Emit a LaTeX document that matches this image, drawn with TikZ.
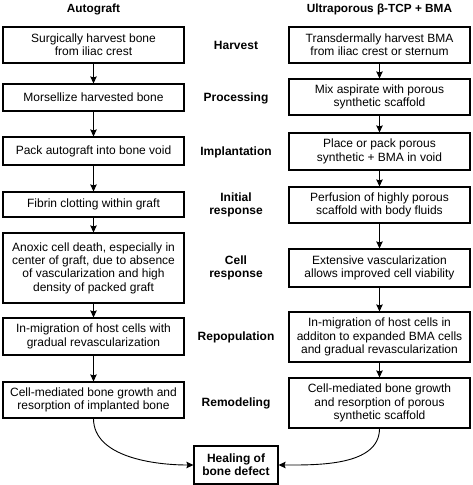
\documentclass[tikz,border=0pt]{standalone}
\usepackage{fontspec}
\setmainfont{Liberation Sans}
\usetikzlibrary{arrows.meta}
\begin{document}
\begin{tikzpicture}[x=1pt,y=-1pt,
  box/.style={draw, line width=1.1pt, minimum width=181pt, inner sep=0pt, align=center,
    font=\fontsize{12}{13.4}\selectfont},
  hdr/.style={font=\fontsize{11.8}{13.4}\selectfont\bfseries, align=center, inner sep=0pt},
  lbl/.style={font=\fontsize{12}{13.4}\selectfont\bfseries, align=center, inner sep=0pt},
  arr/.style={line width=0.9pt, -{Stealth[length=7pt,width=6.5pt,inset=1pt]}}]
\useasboundingbox (0,0) rectangle (473,485);
% headers
\node[hdr] (hA) at (93.5,9) {Autograft};
\node[hdr] (hB) at (379.5,9) {Ultraporous β-TCP + BMA};
% left column
\node[box, minimum height=36pt] (L1) at (93.5,45) {Surgically harvest bone\\from iliac crest};
\node[box, minimum height=27pt] (L2) at (93.5,97.5) {Morsellize harvested bone};
\node[box, minimum height=28pt] (L3) at (93.5,151) {Pack autograft into bone void};
\node[box, minimum height=25pt] (L4) at (93.5,204.5) {Fibrin clotting within graft};
\node[box, minimum height=70pt] (L5) at (93.5,268) {Anoxic cell death, especially in\\center of graft, due to absence\\of vascularization and high\\density of packed graft};
\node[box, minimum height=37pt] (L6) at (93.5,336.5) {In-migration of host cells with\\gradual revascularization};
\node[box, minimum height=36pt] (L7) at (93.5,400) {Cell-mediated bone growth and\\resorption of implanted bone};
% right column
\node[box, minimum height=36pt] (R1) at (379.5,45) {Transdermally harvest BMA\\from iliac crest or sternum};
\node[box, minimum height=36pt] (R2) at (379.5,97) {Mix aspirate with porous\\synthetic scaffold};
\node[box, minimum height=37pt] (R3) at (379.5,151.5) {Place or pack porous\\synthetic + BMA in void};
\node[box, minimum height=36pt] (R4) at (379.5,205) {Perfusion of highly porous\\scaffold with body fluids};
\node[box, minimum height=38pt] (R5) at (379.5,268) {Extensive vascularization\\allows improved cell viability};
\node[box, minimum height=50pt] (R6) at (379.5,337) {In-migration of host cells in\\additon to expanded BMA cells\\and gradual revascularization};
\node[box, minimum height=50pt] (R7) at (379.5,403) {Cell-mediated bone growth\\and resorption of porous\\synthetic scaffold};
% middle labels
\node[lbl] (m1) at (236,45) {Harvest};
\node[lbl] (m2) at (236,98) {Processing};
\node[lbl] (m3) at (236,152) {Implantation};
\node[lbl] (m4) at (236,205) {Initial\\response};
\node[lbl] (m5) at (236,268) {Cell\\response};
\node[lbl] (m6) at (236,337) {Repopulation};
\node[lbl] (m7) at (236,403) {Remodeling};
% final
\node[box, minimum width=84pt, minimum height=38pt, font=\fontsize{12}{13.4}\selectfont\bfseries] (H) at (236,465) {Healing of\\bone defect};
% arrows
\foreach \a/\b in {L1/L2,L2/L3,L3/L4,L4/L5,L5/L6,L6/L7,R1/R2,R2/R3,R3/R4,R4/R5,R5/R6,R6/R7}
  \draw[arr] (\a.south) -- (\b.north);
\draw[arr] (L7.south) to[out=-90,in=180,looseness=0.9] (H.west);
\draw[arr] (R7.south) to[out=-90,in=0,looseness=0.9] (H.east);
\end{tikzpicture}
\end{document}
